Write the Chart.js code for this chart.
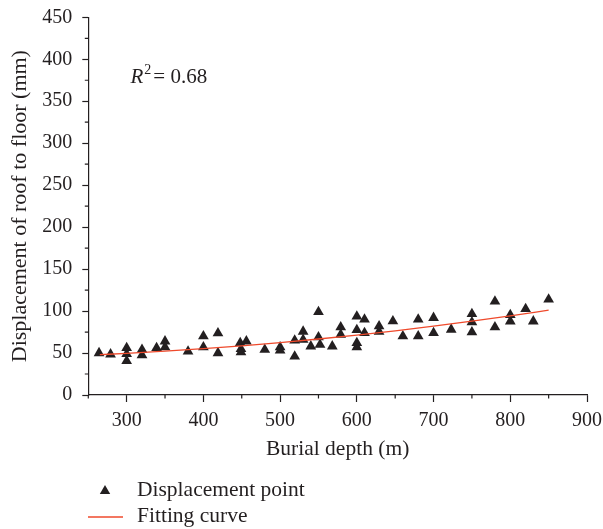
<!DOCTYPE html>
<html>
<head>
<meta charset="utf-8">
<script src="https://cdn.jsdelivr.net/npm/chart.js@4/dist/chart.umd.min.js"></script>
<style>
  html, body { margin: 0; padding: 0; background: #fff; }
  #wrap { position: relative; width: 603px; height: 529px; }
</style>
</head>
<body>
<div id="wrap"><canvas id="scatter-chart"></canvas></div>
<script>

// measured points
let depthPts = [264, 279, 300, 300, 300, 320, 320, 339, 350, 350, 380, 400, 400, 419, 419,
    448, 449, 449, 456, 480, 500, 500, 519, 519, 530, 530, 540, 550, 550, 552,
    568, 579, 579, 600, 600, 600, 600, 610, 610, 629, 629, 647, 660, 680, 680,
    700, 700, 723, 750, 750, 750, 780, 780, 800, 800, 820, 830, 850];
let dispPts = [50, 48.5, 56, 49, 40.5, 54, 47.6, 56, 64, 57, 52, 70, 57, 73.6, 50,
    62, 55, 51, 64, 54, 57, 53, 46, 65, 75.6, 66, 58, 99, 69, 60,
    58, 80.7, 72, 93.7, 77.6, 62, 57, 90, 74, 82, 75.6, 88, 70, 90, 70,
    92, 74, 78, 96.5, 86.7, 74.8, 111.5, 80.7, 95.4, 87.8, 102.5, 87.8, 113.8];

// fitting curve
let fitDepth = [265, 300, 350, 400, 450, 500, 550, 600, 650, 700, 750, 800, 850];
let fitDisp = [48, 49.6, 52.2, 55.2, 58.6, 62.5, 66.7, 71.4, 76.5, 82.0, 87.9, 94.3, 101];

let xTicks = [300, 400, 500, 600, 700, 800, 900];
let yTicks = [0, 50, 100, 150, 200, 250, 300, 350, 400, 450];
let legendNames = ['Displacement point', 'Fitting curve'];
let r2Text = '= 0.68';

const inkColor = '#231f20';
const fitColor = '#ef4a2c';
const serif = "'Liberation Serif', 'DejaVu Serif', serif";

function toXY(xs, ys) {
    let out = [];
    for (let i = 0; i < xs.length; ++i) {
        out.push({x: xs[i], y: ys[i]});
    }
    return out;
}

// short minor ticks between the labelled ones
const minorTicks = {
    id: 'minorTicks',
    afterDraw(chart) {
        const ctx = chart.ctx;
        const xs = chart.scales.x;
        const ys = chart.scales.y;
        ctx.save();
        ctx.strokeStyle = inkColor;
        ctx.lineWidth = 1.2;
        ctx.beginPath();
        for (let v = 250; v < 900; v += 100) {
            let px = xs.getPixelForValue(v);
            ctx.moveTo(px, ys.bottom);
            ctx.lineTo(px, ys.bottom + 3.5);
        }
        for (let v = 25; v < 450; v += 50) {
            let py = ys.getPixelForValue(v);
            ctx.moveTo(xs.left, py);
            ctx.lineTo(xs.left - 3.5, py);
        }
        ctx.stroke();
        ctx.restore();
    }
};

// R^2 note and the two-row legend under the axis
const notes = {
    id: 'notes',
    afterDraw(chart) {
        const ctx = chart.ctx;
        const xs = chart.scales.x;
        const ys = chart.scales.y;
        ctx.save();
        ctx.fillStyle = inkColor;
        ctx.textBaseline = 'alphabetic';
        let rx = xs.getPixelForValue(305);
        let ry = ys.getPixelForValue(372);
        ctx.font = "italic 21px " + serif;
        ctx.fillText('R', rx, ry);
        let w = ctx.measureText('R').width;
        ctx.font = "14px " + serif;
        ctx.fillText('2', rx + w + 1, ry - 9);
        ctx.font = "21px " + serif;
        ctx.fillText(r2Text, rx + w + 10, ry);

        // legend
        const ds = chart.data.datasets;
        ctx.textBaseline = 'middle';
        ctx.font = "21.5px " + serif;
        Chart.helpers.drawPoint(ctx, {pointStyle: 'triangle', radius: 6, borderWidth: 0}, 105, 491);
        ctx.fillText(ds[0].label, 137, 490);
        ctx.strokeStyle = ds[1].borderColor;
        ctx.lineWidth = 1.3;
        ctx.beginPath();
        ctx.moveTo(88, 517);
        ctx.lineTo(123, 517);
        ctx.stroke();
        ctx.fillText(ds[1].label, 137, 516);
        ctx.restore();
    }
};

const data = {
    datasets: [{
        label: legendNames[0],
        type: 'scatter',
        data: toXY(depthPts, dispPts),
        pointStyle: 'triangle',
        pointRadius: 6.2,
        pointBackgroundColor: inkColor,
        pointBorderColor: inkColor,
        pointBorderWidth: 0,
        order: 2
    }, {
        label: legendNames[1],
        type: 'line',
        data: toXY(fitDepth, fitDisp),
        borderColor: fitColor,
        borderWidth: 1.3,
        pointRadius: 0,
        tension: 0.4,
        cubicInterpolationMode: 'monotone',
        fill: false,
        order: 1
    }]
};

const config = {
    type: 'scatter',
    data: data,
    options: {
        responsive: true,
        maintainAspectRatio: false,
        animation: false,
        events: [],
        layout: {
            padding: {left: 0, right: 16, top: 17.3, bottom: 63}
        },
        plugins: {
            legend: {display: false},
            tooltip: {enabled: false}
        },
        scales: {
            x: {
                type: 'linear',
                min: 250,
                max: 900,
                afterBuildTicks: (axis) => { axis.ticks = xTicks.map(v => ({value: v})); },
                afterFit: (axis) => { axis.height = 71; axis.paddingLeft = 0; axis.paddingRight = 0; },
                border: {display: true, color: inkColor, width: 1.2},
                grid: {display: true, drawOnChartArea: false, drawTicks: true, tickLength: 7, tickColor: inkColor, tickWidth: 1.2},
                ticks: {color: inkColor, font: {family: serif, size: 20}, padding: 7, maxRotation: 0},
                title: {display: true, text: 'Burial depth (m)', color: inkColor, font: {family: serif, size: 21.5}, padding: {top: 6, bottom: 4}}
            },
            y: {
                type: 'linear',
                min: 0,
                max: 450,
                afterBuildTicks: (axis) => { axis.ticks = yTicks.map(v => ({value: v})); },
                afterFit: (axis) => { axis.width = 88.3; axis.paddingTop = 0; axis.paddingBottom = 0; },
                border: {display: true, color: inkColor, width: 1.2},
                grid: {display: true, drawOnChartArea: false, drawTicks: true, tickLength: 6, tickColor: inkColor, tickWidth: 1.2},
                ticks: {color: inkColor, font: {family: serif, size: 20}, padding: 10},
                title: {display: true, text: 'Displacement of roof to floor (mm)', color: inkColor, font: {family: serif, size: 22}, padding: {top: 7, bottom: 0}}
            }
        }
    },
    plugins: [minorTicks, notes]
};

let scatterChart = new Chart('scatter-chart', config);
</script>
</body>
</html>
